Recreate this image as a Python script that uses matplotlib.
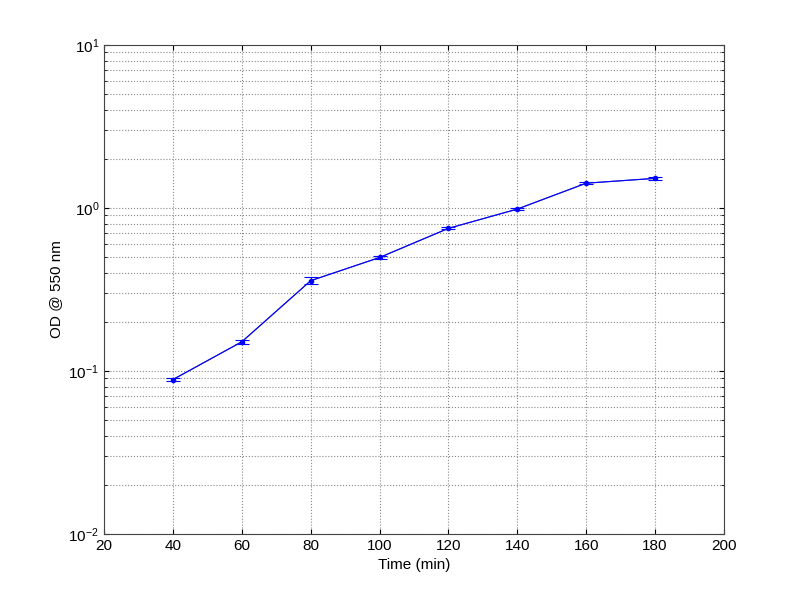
import matplotlib
matplotlib.use("Agg")
import matplotlib.pyplot as plt
from matplotlib.ticker import LogLocator, FixedLocator

plt.rcParams['font.family'] = ['Liberation Sans', 'DejaVu Sans']
plt.rcParams['mathtext.fontset'] = 'custom'
plt.rcParams['mathtext.rm'] = 'Liberation Sans'
plt.rcParams['mathtext.it'] = 'Liberation Sans'

# 时间点 (min) 与 OD 读数
time_min = [40, 60, 80, 100, 120, 140, 160, 180]
od_550 = [0.0886, 0.151, 0.358, 0.497, 0.75, 0.985, 1.42, 1.52]
od_err = [0.002, 0.004, 0.018, 0.008, 0.01, 0.012, 0.02, 0.04]

fig = plt.figure(figsize=(8, 6), dpi=100)
ax = fig.add_axes([0.13, 0.11, 0.775, 0.815])

ax.errorbar(time_min, od_550, yerr=od_err, color='#0000ff', marker='.',
            markersize=6, linewidth=0.8, elinewidth=0.8, capsize=5, capthick=0.8)
ax.plot(time_min, od_550, color='#4a4a9a', linewidth=0.8)

ax.set_yscale('log')
ax.set_xlim(20, 200)
ax.set_ylim(1e-2, 1e1)
ax.xaxis.set_major_locator(FixedLocator(range(20, 201, 20)))
ax.yaxis.set_minor_locator(LogLocator(base=10, subs=range(2, 10)))

ax.grid(True, which='major', linestyle=':', color='#888888', linewidth=0.8)
ax.grid(True, which='minor', axis='y', linestyle=':', color='#888888', linewidth=0.8)
ax.tick_params(which='both', direction='in', top=True, right=True, labelsize=11)
ax.tick_params(axis='y', which='minor', labelleft=False)
for s in ax.spines.values():
    s.set_color('#444444')

ax.set_xlabel('Time (min)', fontsize=11)
ax.set_ylabel('OD @ 550 nm', fontsize=11)

fig.savefig('out.png', dpi=100, facecolor='white')
